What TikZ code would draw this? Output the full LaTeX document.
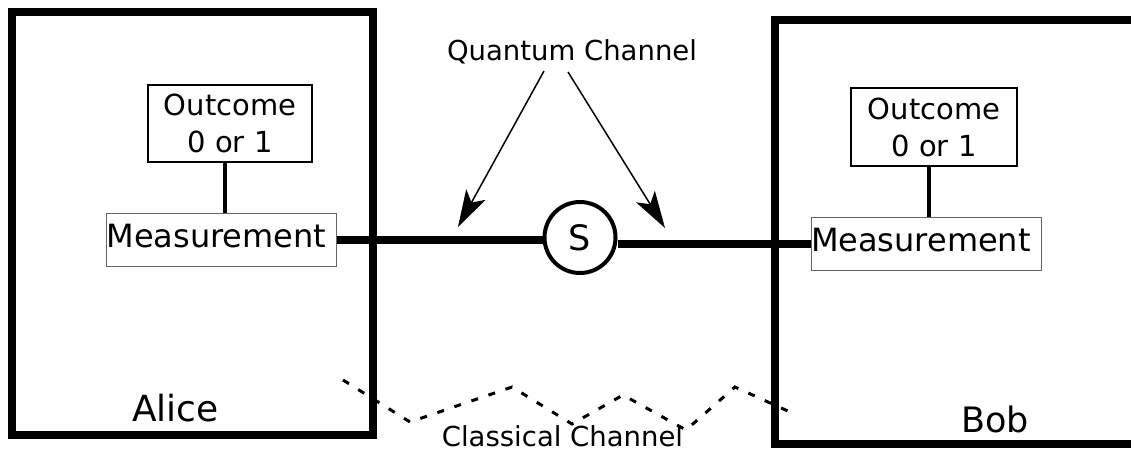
\documentclass[tikz,border=0pt]{standalone}
\usepackage{fontspec}
\setmainfont{DejaVu Sans}
\usetikzlibrary{arrows.meta,calc}
\begin{document}
\begin{tikzpicture}[x=1pt,y=-1pt,
  partybox/.style={draw,line width=8pt,inner sep=0pt},
  outbox/.style={draw,line width=2pt,minimum width=164pt,minimum height=77pt,inner sep=0pt,align=center,font=\fontsize{29}{37}\selectfont},
  measbox/.style={draw=black!60,line width=1pt,minimum height=53pt,inner sep=0pt,text width=230pt,align=left,text height=23pt,text depth=8pt,font=\fontsize{32}{38}\selectfont},
  link/.style={line width=4pt},
  qline/.style={line width=8pt},
  qarrow/.style={line width=1.5pt,-{Stealth[length=37pt,width=22pt,inset=9pt]}},
  cline/.style={line width=3pt,dash pattern=on 7pt off 11pt},
  label/.style={anchor=base,inner sep=0pt}]
\fill[white] (0,0) rectangle (1131,452);
\useasboundingbox (0,0) rectangle (1131,452);
% Alice
\node[partybox,minimum width=361pt,minimum height=423pt] (alice) at (192.5,223.5) {};
% Bob (open to the right)
\draw[line width=8pt] (1140,20.5) -| (775,443.5) -- (1140,443.5);
% outcome boxes
\node[outbox] (outA) at (230,123.5) {Outcome\\0 or 1};
\node[outbox,minimum width=166pt,minimum height=78pt] (outB) at (934,127) {Outcome\\0 or 1};
% measurement boxes
\node[measbox] (measA) at (221.5,240) {Measurement};
\node[measbox] (measB) at (926,243.5) {Measurement};
% source
\node[circle,draw,line width=4pt,minimum size=71pt,inner sep=0pt,font=\fontsize{35}{40}\selectfont] (S) at (580,237.5) {S};
% links
\draw[link] ([xshift=-5pt]outA.south) -- ([xshift=-5pt]outA.south |- measA.north);
\draw[link] ([xshift=-5pt]outB.south) -- ([xshift=-5pt]outB.south |- measB.north);
\draw[qline] (measA.east) -- (measA.east -| S.west);
\draw[qline] (measB.west) -- (measB.west -| S.east);
% quantum channel label and arrows
\node[label,font=\fontsize{27.5}{33}\selectfont] (qc) at (572,60) {Quantum Channel};
\coordinate (tL) at (458,227);
\coordinate (tR) at (665,228);
\draw[qarrow] ([shift={(-28,11)}]qc.base) -- (tL);
\draw[qarrow] ([shift={(-4,12)}]qc.base) -- (tR);
% classical channel
\draw[cline] (343,380) -- (410,422) -- (512,387) -- (572,424) -- (623,395) -- (686,430) -- (735,387) -- (790,412);
\node[label,font=\fontsize{27.5}{33}\selectfont] (cc) at (562.5,446.5) {Classical Channel};
% names
\node[label,font=\fontsize{36}{40}\selectfont] (al) at (175.5,421) {Alice};
\node[label,font=\fontsize{35}{40}\selectfont] (bo) at (995,432) {Bob};
\end{tikzpicture}
\end{document}
